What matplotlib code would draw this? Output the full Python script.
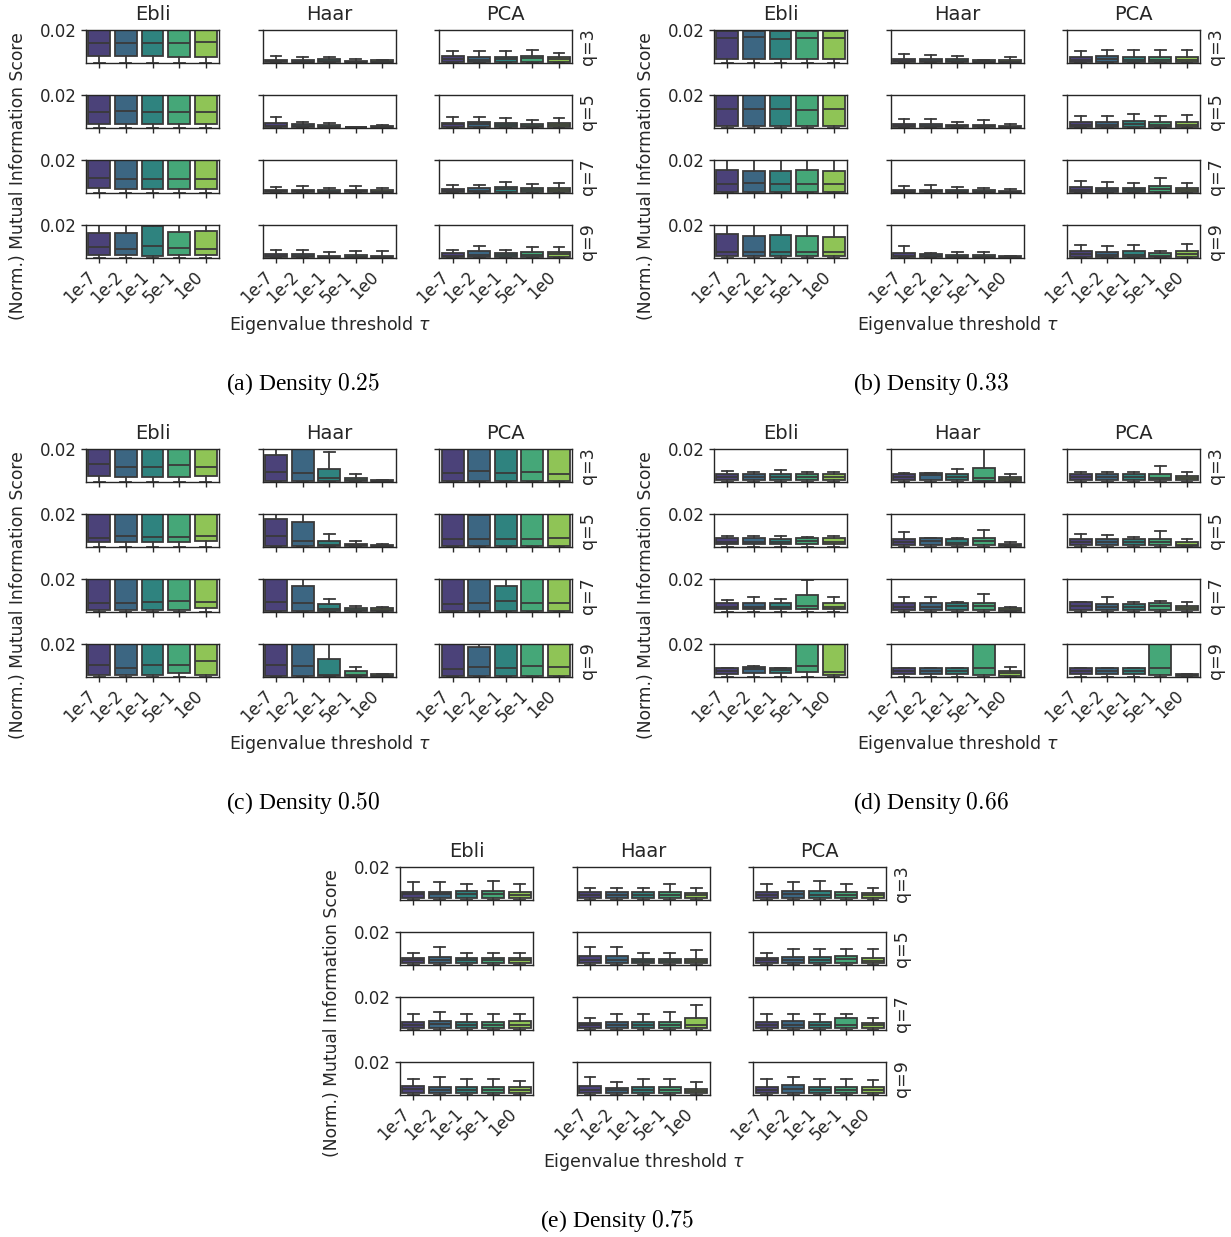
import colorsys
import numpy as np
import matplotlib
matplotlib.use("Agg")
from matplotlib import pyplot as plt
from matplotlib import cm

## labels
methods = ['Ebli', 'Haar', 'PCA']
taus = ['1e-7', '1e-2', '1e-1', '5e-1', '1e0']
qs = ['q=3', 'q=5', 'q=7', 'q=9']
densities = ['0.25', '0.33', '0.50', '0.66', '0.75']
letters = ['a', 'b', 'c', 'd', 'e']

## box statistics, indexed [q row][method][tau]; values above 0.02 run off the top of the axes
## lower whiskers all sit at 0
## Density 0.25
q1_025 = [[[0.0038, 0.0038, 0.0038, 0.0034, 0.0034], [0.0001] * 5, [0.0002] * 5],
          [[0.0024, 0.0024, 0.0024, 0.0024, 0.0024], [0.0001] * 5, [0.0002] * 5],
          [[0.0028, 0.0020, 0.0021, 0.0019, 0.0021], [0.0001] * 5, [0.0002] * 5],
          [[0.0014, 0.0014, 0.0012, 0.0014, 0.0014], [0.0001] * 5, [0.0002] * 5]]
med_025 = [[[0.0120, 0.0118, 0.0118, 0.0118, 0.0126], [0.0007, 0.0006, 0.0008, 0.0004, 0.0005], [0.0024, 0.0018, 0.0024, 0.0026, 0.0022]],
           [[0.0093, 0.0104, 0.0093, 0.0098, 0.0096], [0.0010, 0.0008, 0.0006, 0.0001, 0.0005], [0.0020, 0.0020, 0.0016, 0.0012, 0.0016]],
           [[0.0092, 0.0086, 0.0084, 0.0086, 0.0084], [0.0007, 0.0007, 0.0006, 0.0007, 0.0005], [0.0012, 0.0012, 0.0022, 0.0018, 0.0016]],
           [[0.0065, 0.0055, 0.0069, 0.0059, 0.0053], [0.0008, 0.0008, 0.0005, 0.0006, 0.0005], [0.0012, 0.0016, 0.0016, 0.0016, 0.0020]]]
q3_025 = [[[0.025, 0.025, 0.025, 0.025, 0.025], [0.0018, 0.0016, 0.0019, 0.0012, 0.0014], [0.0038, 0.0034, 0.0036, 0.0040, 0.0032]],
          [[0.025, 0.025, 0.025, 0.025, 0.025], [0.0026, 0.0020, 0.0016, 0.0003, 0.0012], [0.0030, 0.0034, 0.0028, 0.0024, 0.0028]],
          [[0.025, 0.025, 0.025, 0.025, 0.025], [0.0018, 0.0018, 0.0016, 0.0018, 0.0014], [0.0024, 0.0026, 0.0036, 0.0030, 0.0030]],
          [[0.0153, 0.0153, 0.0194, 0.0157, 0.0163], [0.0020, 0.0020, 0.0012, 0.0016, 0.0012], [0.0028, 0.0040, 0.0030, 0.0032, 0.0032]]]
hi_025 = [[[0.03] * 5, [0.0040, 0.0034, 0.0036, 0.0020, 0.0018], [0.0069, 0.0069, 0.0069, 0.0077, 0.0059]],
          [[0.03] * 5, [0.0063, 0.0036, 0.0030, 0.0005, 0.0016], [0.0067, 0.0067, 0.0057, 0.0045, 0.0061]],
          [[0.03] * 5, [0.0036, 0.0042, 0.0030, 0.0042, 0.0030], [0.0044, 0.0044, 0.0067, 0.0055, 0.0061]],
          [[0.03] * 5, [0.0049, 0.0049, 0.0036, 0.0042, 0.0038], [0.0044, 0.0073, 0.0045, 0.0065, 0.0065]]]

## Density 0.33
q1_033 = [[[0.0024] * 5, [0.0001] * 5, [0.0002] * 5],
          [[0.0009] * 5, [0.0001] * 5, [0.0002] * 5],
          [[0.0006] * 5, [0.0001] * 5, [0.0002] * 5],
          [[0.0012] * 5, [0.0001] * 5, [0.0002] * 5]]
med_033 = [[[0.0153, 0.0157, 0.0143, 0.0153, 0.0151], [0.0010, 0.0010, 0.0008, 0.0006, 0.0006], [0.0016, 0.0020, 0.0016, 0.0016, 0.0016]],
           [[0.0116, 0.0112, 0.0114, 0.0106, 0.0114], [0.0010, 0.0010, 0.0008, 0.0007, 0.0005], [0.0016, 0.0016, 0.0020, 0.0016, 0.0018]],
           [[0.0055, 0.0057, 0.0053, 0.0055, 0.0053], [0.0006, 0.0007, 0.0006, 0.0005, 0.0004], [0.0016, 0.0014, 0.0014, 0.0020, 0.0015]],
           [[0.0036, 0.0035, 0.0036, 0.0036, 0.0036], [0.0012, 0.0008, 0.0006, 0.0005, 0.0003], [0.0020, 0.0018, 0.0018, 0.0012, 0.0020]]]
q3_033 = [[[0.0196] * 5, [0.0024, 0.0024, 0.0020, 0.0014, 0.0014], [0.0032, 0.0038, 0.0032, 0.0032, 0.0032]],
          [[0.025] * 5, [0.0024, 0.0024, 0.0018, 0.0016, 0.0012], [0.0032, 0.0032, 0.0038, 0.0032, 0.0036]],
          [[0.0141, 0.0135, 0.0135, 0.0137, 0.0133], [0.0016, 0.0018, 0.0016, 0.0014, 0.0010], [0.0032, 0.0028, 0.0028, 0.0038, 0.0030]],
          [[0.0147, 0.0130, 0.0141, 0.0130, 0.0128], [0.0030, 0.0020, 0.0016, 0.0014, 0.0008], [0.0042, 0.0036, 0.0038, 0.0026, 0.0040]]]
hi_033 = [[[0.03] * 5, [0.0055, 0.0049, 0.0043, 0.0018, 0.0035], [0.0071, 0.0075, 0.0075, 0.0075, 0.0075]],
          [[0.03] * 5, [0.0052, 0.0052, 0.0035, 0.0045, 0.0020], [0.0073, 0.0073, 0.0083, 0.0071, 0.0075]],
          [[0.03] * 5, [0.0040, 0.0044, 0.0036, 0.0030, 0.0024], [0.0069, 0.0063, 0.0057, 0.0087, 0.0059]],
          [[0.03] * 5, [0.0069, 0.0026, 0.0036, 0.0036, 0.0010], [0.0077, 0.0069, 0.0077, 0.0042, 0.0081]]]

## Density 0.50
q1_050 = [[[0.0032, 0.0026, 0.0026, 0.0028, 0.0032], [0.0005, 0.0005, 0.0003, 0.0002, 0.0001], [0.0005] * 5],
          [[0.0026, 0.0028, 0.0028, 0.0030, 0.0032], [0.0004, 0.0004, 0.0003, 0.0002, 0.0001], [0.0005] * 5],
          [[0.0011, 0.0011, 0.0011, 0.0011, 0.0019], [0.0003, 0.0003, 0.0003, 0.0002, 0.0001], [0.0005] * 5],
          [[0.0011, 0.0011, 0.0011, 0.0021, 0.0011], [0.0003, 0.0003, 0.0003, 0.0002, 0.0001], [0.0005] * 5]]
med_050 = [[[0.0106, 0.0091, 0.0091, 0.0104, 0.0089], [0.0058, 0.0050, 0.0020, 0.0010, 0.0004], [0.0050, 0.0066, 0.0050, 0.0060, 0.0046]],
           [[0.0054, 0.0066, 0.0058, 0.0058, 0.0066], [0.0066, 0.0036, 0.0012, 0.0008, 0.0005], [0.0044, 0.0046, 0.0044, 0.0044, 0.0050]],
           [[0.0054, 0.0050, 0.0060, 0.0064, 0.0060], [0.0060, 0.0050, 0.0016, 0.0008, 0.0008], [0.0048, 0.0052, 0.0066, 0.0054, 0.0054]],
           [[0.0072, 0.0052, 0.0068, 0.0070, 0.0093], [0.0072, 0.0066, 0.0010, 0.0010, 0.0006], [0.0048, 0.0056, 0.0050, 0.0066, 0.0058]]]
q3_050 = [[[0.025] * 5, [0.0163, 0.025, 0.0079, 0.0023, 0.0008], [0.025] * 5],
          [[0.025] * 5, [0.0169, 0.0149, 0.0036, 0.0018, 0.0012], [0.025, 0.0195, 0.025, 0.025, 0.025]],
          [[0.025] * 5, [0.025, 0.0157, 0.0048, 0.0022, 0.0020], [0.025, 0.025, 0.0159, 0.025, 0.025]],
          [[0.025] * 5, [0.025, 0.025, 0.0108, 0.0032, 0.0014], [0.025, 0.0182, 0.025, 0.025, 0.025]]]
hi_050 = [[[0.03] * 5, [0.03, 0.03, 0.0183, 0.0048, 0.0011], [0.03] * 5],
          [[0.03] * 5, [0.03, 0.03, 0.0077, 0.0032, 0.0016], [0.03] * 5],
          [[0.03] * 5, [0.03, 0.03, 0.0077, 0.0034, 0.0030], [0.03] * 5],
          [[0.03] * 5, [0.03, 0.03, 0.03, 0.0060, 0.0018], [0.03] * 5]]

## Density 0.66
q1_066 = [[[0.0010] * 5, [0.0010, 0.0010, 0.0010, 0.0006, 0.0002], [0.0010] * 5],
          [[0.0014] * 5, [0.0010, 0.0010, 0.0010, 0.0010, 0.0002], [0.0010, 0.0010, 0.0010, 0.0010, 0.0004]],
          [[0.0014] * 5, [0.0010, 0.0010, 0.0010, 0.0010, 0.0004], [0.0012] * 5],
          [[0.0014, 0.0019, 0.0023, 0.0026, 0.0011], [0.0016, 0.0016, 0.0016, 0.0007, 0.0006], [0.0016, 0.0016, 0.0016, 0.0007, 0.0002]]]
med_066 = [[[0.0030, 0.0029, 0.0030, 0.0029, 0.0030], [0.0030, 0.0038, 0.0026, 0.0024, 0.0014], [0.0030, 0.0030, 0.0030, 0.0020, 0.0022]],
           [[0.0030, 0.0030, 0.0030, 0.0032, 0.0030], [0.0026, 0.0036, 0.0024, 0.0034, 0.0008], [0.0028, 0.0028, 0.0030, 0.0026, 0.0012]],
           [[0.0030, 0.0030, 0.0030, 0.0036, 0.0030], [0.0028, 0.0030, 0.0034, 0.0034, 0.0010], [0.0036, 0.0030, 0.0030, 0.0034, 0.0020]],
           [[0.0036, 0.0048, 0.0040, 0.0065, 0.0030], [0.0036, 0.0036, 0.0036, 0.0050, 0.0020], [0.0036, 0.0036, 0.0036, 0.0050, 0.0008]]]
q3_066 = [[[0.0046, 0.0046, 0.0048, 0.0046, 0.0046], [0.0048, 0.0052, 0.0046, 0.0083, 0.0026], [0.0044, 0.0044, 0.0044, 0.0046, 0.0036]],
          [[0.0050, 0.0050, 0.0048, 0.0054, 0.0050], [0.0048, 0.0050, 0.0048, 0.0052, 0.0014], [0.0048, 0.0048, 0.0046, 0.0048, 0.0026]],
          [[0.0050, 0.0050, 0.0050, 0.0101, 0.0050], [0.0050, 0.0050, 0.0052, 0.0054, 0.0022], [0.0056, 0.0048, 0.0048, 0.0052, 0.0034]],
          [[0.0050, 0.0060, 0.0052, 0.025, 0.025], [0.0052, 0.0052, 0.0052, 0.025, 0.0032], [0.0052, 0.0052, 0.0052, 0.025, 0.0014]]]
hi_066 = [[[0.0063, 0.0061, 0.0071, 0.0061, 0.0057], [0.0052, 0.0054, 0.0075, 0.0199, 0.0044], [0.0057, 0.0057, 0.0057, 0.0095, 0.0061]],
          [[0.0063, 0.0063, 0.0063, 0.0056, 0.0063], [0.0091, 0.0054, 0.0052, 0.0099, 0.0026], [0.0079, 0.0071, 0.0058, 0.0097, 0.0044]],
          [[0.0071, 0.0091, 0.0075, 0.0196, 0.0091], [0.0091, 0.0091, 0.0056, 0.0110, 0.0026], [0.0058, 0.0091, 0.0058, 0.0065, 0.0058]],
          [[0.0052, 0.0062, 0.0054, 0.03, 0.03], [0.0054, 0.0054, 0.0054, 0.03, 0.0058], [0.0054, 0.0054, 0.0054, 0.03, 0.0018]]]

## Density 0.75
q1_075 = [[[0.0011] * 5, [0.0010] * 5, [0.0010] * 5],
          [[0.0010] * 5, [0.0010] * 5, [0.0010] * 5],
          [[0.0010] * 5, [0.0010] * 5, [0.0010] * 5],
          [[0.0010] * 5, [0.0010] * 5, [0.0010] * 5]]
med_075 = [[[0.0032, 0.0032, 0.0034, 0.0032, 0.0030], [0.0028, 0.0028, 0.0028, 0.0028, 0.0026], [0.0028, 0.0032, 0.0030, 0.0028, 0.0028]],
           [[0.0028, 0.0030, 0.0026, 0.0026, 0.0026], [0.0030, 0.0030, 0.0024, 0.0024, 0.0024], [0.0026, 0.0028, 0.0028, 0.0032, 0.0024]],
           [[0.0030, 0.0032, 0.0028, 0.0026, 0.0030], [0.0026, 0.0028, 0.0028, 0.0028, 0.0030], [0.0028, 0.0030, 0.0028, 0.0030, 0.0026]],
           [[0.0032, 0.0030, 0.0028, 0.0030, 0.0026], [0.0030, 0.0028, 0.0030, 0.0028, 0.0022], [0.0030, 0.0034, 0.0030, 0.0028, 0.0030]]]
q3_075 = [[[0.0048, 0.0048, 0.0054, 0.0052, 0.0046], [0.0044, 0.0044, 0.0044, 0.0044, 0.0042], [0.0044, 0.0054, 0.0050, 0.0044, 0.0042]],
          [[0.0040, 0.0048, 0.0040, 0.0040, 0.0040], [0.0050, 0.0050, 0.0036, 0.0036, 0.0036], [0.0040, 0.0046, 0.0046, 0.0055, 0.0040]],
          [[0.0048, 0.0050, 0.0044, 0.0044, 0.0050], [0.0042, 0.0044, 0.0044, 0.0044, 0.0073], [0.0044, 0.0050, 0.0044, 0.0069, 0.0042]],
          [[0.0050, 0.0048, 0.0046, 0.0048, 0.0044], [0.0050, 0.0042, 0.0048, 0.0044, 0.0036], [0.0048, 0.0060, 0.0048, 0.0046, 0.0046]]]
hi_075 = [[[0.0108, 0.0108, 0.0096, 0.0114, 0.0098], [0.0071, 0.0071, 0.0071, 0.0098, 0.0071], [0.0098, 0.0108, 0.0114, 0.0098, 0.0071]],
          [[0.0069, 0.0106, 0.0069, 0.0069, 0.0069], [0.0106, 0.0106, 0.0069, 0.0069, 0.0091], [0.0069, 0.0093, 0.0093, 0.0093, 0.0093]],
          [[0.0097, 0.0108, 0.0097, 0.0097, 0.0097], [0.0071, 0.0097, 0.0097, 0.0108, 0.0152], [0.0097, 0.0097, 0.0097, 0.0097, 0.0073]],
          [[0.0097, 0.0108, 0.0097, 0.0097, 0.0085], [0.0108, 0.0077, 0.0097, 0.0097, 0.0079], [0.0097, 0.0108, 0.0097, 0.0097, 0.0089]]]

panels = [(q1_025, med_025, q3_025, hi_025),
          (q1_033, med_033, q3_033, hi_033),
          (q1_050, med_050, q3_050, hi_050),
          (q1_066, med_066, q3_066, hi_066),
          (q1_075, med_075, q3_075, hi_075)]

### plotting ###
W, H = 1231, 1237
plt.rcParams['mathtext.fontset'] = 'cm'
fig = plt.figure(figsize=(W / 100, H / 100), dpi=100)

## seaborn style colours: viridis, desaturated
cols = []
for v in np.linspace(0, 1, 7)[1:-1]:
    r, g, b, _ = cm.viridis(v)
    h, l, s = colorsys.rgb_to_hls(r, g, b)
    cols.append(colorsys.hls_to_rgb(h, l, s * 0.75))
gray = '#3a3a3a'
dark = '0.15'

## top-left corner (px) of the first axes in each panel
origins = [(86, 30), (714, 30), (86, 449), (714, 449), (400, 867)]
colx = [0, 176.7, 353.3]
axw, axh, rowstep = 133, 33, 65


def add_ax(px, py):
    return fig.add_axes([px / W, 1 - (py + axh) / H, axw / W, axh / H])


for p, (ox, oy) in enumerate(origins):
    q1s, meds, q3s, his = panels[p]
    for r in range(4):
        for m in range(3):
            ax = add_ax(ox + colx[m], oy + r * rowstep)
            stats = []
            for t in range(5):
                stats.append(dict(whislo=0.0, q1=q1s[r][m][t], med=meds[r][m][t],
                                  q3=q3s[r][m][t], whishi=his[r][m][t]))
            bp = ax.bxp(stats, positions=range(5), widths=0.82, patch_artist=True,
                        showfliers=False,
                        boxprops=dict(edgecolor=gray, linewidth=1.3),
                        medianprops=dict(color=gray, linewidth=1.3),
                        whiskerprops=dict(color=gray, linewidth=1.3),
                        capprops=dict(color=gray, linewidth=1.3))
            for patch, c in zip(bp['boxes'], cols):
                patch.set_facecolor(c)
            ax.set_xlim(-0.5, 4.5)
            ax.set_ylim(-0.0003, 0.02)
            ax.set_yticks([0.02])
            ax.set_xticks(range(5))
            for s in ax.spines.values():
                s.set_color(dark)
                s.set_linewidth(1.0)
            ax.tick_params(colors=dark, labelsize=12, width=1.0)
            if m == 0:
                ax.set_yticklabels(['0.02'])
            else:
                ax.set_yticklabels([])
            if r == 3:
                ax.set_xticklabels(taus, rotation=45, ha='right')
            else:
                ax.set_xticklabels([])
            if r == 0:
                ax.set_title(methods[m], fontsize=14, color=dark, pad=7.5)
            if m == 2:
                ax.text(1 + 16 / axw, 0.5, qs[r], transform=ax.transAxes, rotation=90,
                        ha='center', va='center', fontsize=12.5, color=dark)

    ## panel labels
    fig.text((ox - 68) / W, 1 - (oy + 146) / H, '(Norm.) Mutual Information Score',
             rotation=90, ha='center', va='center', fontsize=12.3, color=dark)
    fig.text((ox + 243.7) / W, 1 - (oy + 295) / H, r'Eigenvalue threshold $\tau$',
             ha='center', va='center', fontsize=12.5, color=dark, math_fontfamily='dejavusans')
    fig.text((ox + 217) / W, 1 - (oy + 354) / H,
             '(%s) Density $%s$' % (letters[p], densities[p]),
             ha='center', va='center', fontsize=17, family='Liberation Serif')

fig.savefig('out.png', dpi=100)
